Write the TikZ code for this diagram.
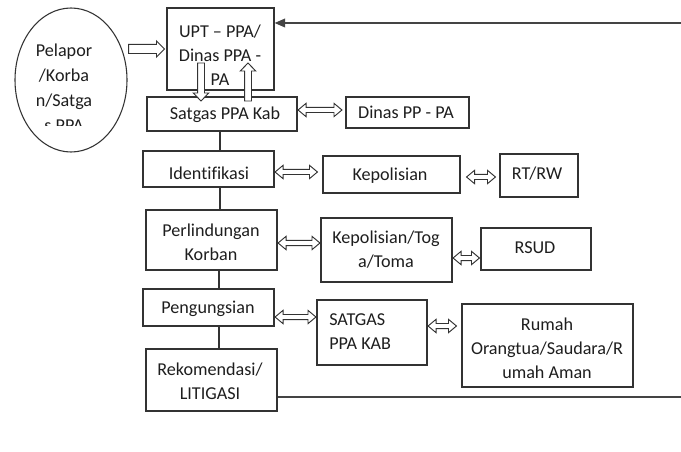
\documentclass[tikz,border=0pt]{standalone}
\usepackage{fontspec}
\setmainfont{Carlito}[Ligatures=NoCommon]
\usetikzlibrary{arrows.meta,calc,shapes.geometric}
\definecolor{linec}{HTML}{333333}
\definecolor{txtc}{HTML}{1E1E1E}
\definecolor{fbc}{HTML}{444444}
% box from (x1,y1) to (x2,y2) in px
\newcommand\mkbox[5]{\node[box, minimum width={(#4-#2)*0.75pt}, minimum height={(#5-#3)*0.75pt}] (#1) at ({(#2+#4)/2},{(#3+#5)/2}) {};}
% hollow double arrow: left node, right node, y px, left gap px, right gap px
\newcommand\dblarr[5]{%
 \draw[blk] let \p1=(#1.east |- 0,#3), \p2=(#2.west |- 0,#3) in
  (\x1+#4*0.75pt,\y1) -- ++(6pt,5pt) -- ++(0,-3.1pt) -- (\x2-#5*0.75pt-6pt,\y1+1.9pt) -- ++(0,3.1pt)
  -- (\x2-#5*0.75pt,\y1) -- ++(-6pt,-5pt) -- ++(0,3.1pt) -- (\x1+#4*0.75pt+6pt,\y1-1.9pt) -- ++(0,-3.1pt) -- cycle;}
\begin{document}
\begin{tikzpicture}[x=0.75pt,y=-0.75pt,
  box/.style={draw=linec, line width=0.8pt, inner sep=0pt},
  txt/.style={text=txtc, font=\fontsize{13.6pt}{18pt}\selectfont, align=center, inner sep=0pt},
  blk/.style={draw=linec, line width=0.7pt, fill=white, line join=miter},
  conn/.style={draw=linec, line width=0.8pt},
  fb/.style={draw=fbc, line width=1.3pt, -{Triangle[length=8pt,width=6.5pt]}}
]
\useasboundingbox[fill=white] (0,0) rectangle (681,452);

% ellipse
\node[draw=linec, line width=0.8pt, ellipse, minimum width={112*0.75pt}, minimum height={144*0.75pt}, inner sep=0pt] (ell) at (71,80) {};
\begin{scope}
  \clip (0,0) rectangle (140,126);
  \node[txt, font=\fontsize{13.6pt}{18.75pt}\selectfont] (elltxt) at (64,88) {Pelapor\\/Korba\\n/Satga\\s PPA};
\end{scope}

% boxes
\mkbox{upt}{167}{8}{274}{90}
\mkbox{satgas}{147}{97}{297}{131}
\mkbox{dinas}{346}{97}{469}{128}
\mkbox{ident}{143}{151}{274}{187}
\mkbox{kep}{323}{156}{460}{193}
\mkbox{rtrw}{500}{154}{578}{197}
\mkbox{perl}{146}{210}{277}{270}
\mkbox{keptoga}{321}{218}{452}{282}
\mkbox{rsud}{481}{228}{591}{270}
\mkbox{peng}{143}{289}{274}{326}
\mkbox{satgas2}{317}{300}{427}{365}
\mkbox{rumah}{462}{304}{633}{387}
\mkbox{rek}{146}{349}{277}{411}

% texts
\node[txt] (upt-t) at (220,55.5) {UPT – PPA/\\Dinas PPA -\\PA};
\node[txt] (satgas-t) at (225,115) {Satgas PPA Kab};
\node[txt] (dinas-t) at (406,112) {Dinas PP - PA};
\node[txt] (ident-t) at (209,173) {Identifikasi};
\node[txt] (kep-t) at (390,176) {Kepolisian};
\node[txt] (rtrw-t) at (537,174) {RT/RW};
\node[txt] (perl-t) at (211,242) {Perlindungan\\Korban};
\node[txt] (keptoga-t) at (386,250) {Kepolisian/Tog\\a/Toma};
\node[txt] (rsud-t) at (535,248) {RSUD};
\node[txt] (peng-t) at (208,309) {Pengungsian};
\node[txt, align=left, anchor=west] (satgas2-t) at (329,332) {SATGAS\\PPA KAB};
\node[txt] (rumah-t) at (547,348) {Rumah\\Orangtua/Saudara/R\\umah Aman};
\node[txt] (rek-t) at (210,381) {Rekomendasi/\\LITIGASI};

% vertical connectors
\draw[conn] (satgas.south -| 220,0) -- (ident.north -| 220,0);
\draw[conn] (ident.south -| 220,0) -- (perl.north -| 220,0);
\draw[conn] (perl.south -| 219,0) -- (peng.north -| 219,0);
\draw[conn] (peng.south -| 219,0) -- (rek.north -| 219,0);

% ellipse -> UPT block arrow
\draw[blk] let \p1=(ell.east |- 0,49), \p2=(upt.west |- 0,49) in
  (\x1+0.75pt,\y1+3.4pt) -- (\x2-7.5pt,\y1+3.4pt) -- ++(0,2.6pt) -- (\x2-1.5pt,\y1)
  -- ++(-6pt,-6pt) -- ++(0,2.6pt) -- (\x1+0.75pt,\y1-3.4pt) -- cycle;

% UPT <-> Satgas block arrows
\coordinate (dA) at (201,63);
\coordinate (dB) at (201,101);
\coordinate (uA) at (248,101);
\coordinate (uB) at (248,63);
\draw[blk] let \p1=(dA), \p2=(dB) in
  (\x1-2.6pt,\y1) -- (\x1-2.6pt,\y2+6pt) -- (\x1-5.8pt,\y2+6pt) -- (\x1,\y2)
  -- (\x1+5.8pt,\y2+6pt) -- (\x1+2.6pt,\y2+6pt) -- (\x1+2.6pt,\y1) -- cycle;
\draw[blk] let \p1=(uA), \p2=(uB) in
  (\x1-2.6pt,\y1) -- (\x1-2.6pt,\y2-6pt) -- (\x1-5.8pt,\y2-6pt) -- (\x1,\y2)
  -- (\x1+5.8pt,\y2-6pt) -- (\x1+2.6pt,\y2-6pt) -- (\x1+2.6pt,\y1) -- cycle;

% double arrows
\dblarr{satgas}{dinas}{110}{0.5}{3.5}
\dblarr{ident}{kep}{172}{0.5}{5}
\dblarr{kep}{rtrw}{177}{6}{4}
\dblarr{perl}{keptoga}{243}{0.5}{0.5}
\dblarr{keptoga}{rsud}{258}{0.5}{1}
\dblarr{peng}{satgas2}{317}{0.5}{0.5}
\dblarr{satgas2}{rumah}{326}{0.5}{5}

% feedback line
\coordinate (fbB) at (683,397);
\coordinate (fbT) at (683,23);
\draw[fb] (rek.east |- 0,397) -- (fbB) -- (fbT) -- (upt.east |- 0,23);
\end{tikzpicture}
\end{document}
